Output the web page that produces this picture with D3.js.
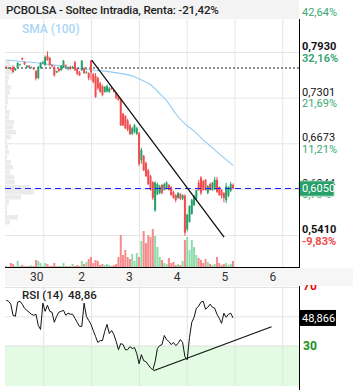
<!DOCTYPE html>
<html>
<head>
<meta charset="utf-8">
<script src="https://cdn.jsdelivr.net/npm/d3@7/dist/d3.min.js"></script>
<style>
  body { margin: 0; background: #fff; }
  #chart { width: 353px; height: 390px; }
  text { font-family: Roboto, "Noto Sans", sans-serif; }
</style>
</head>
<body>
<div id="chart"></div>
<script>
// ---------- DATA ----------
const TITLE = "PCBOLSA - Soltec Intradia, Renta: -21,42%";
const DAY_TICKS = [0, 1, 2, 3, 4, 5];
const DAY_LABELS = ["30", "2", "3", "4", "5", "6"];
const PRICE_TICKS = [0.8558, 0.7930, 0.7301, 0.6673, 0.6044, 0.5410];
const PCT_LABELS = ["42,64%", "32,16%", "21,69%", "11,21%", "0,73%", "-9,83%"];
const BOLD_TICKS = [0.7930, 0.5410];
const LAST_PRICE = 0.6050;
const REF_LEVEL = 0.771;
const RSI_LAST = 48.866;
const RSI_LEVELS = [70, 50, 30];

// candles: [open, high, low, close]
const CANDLES = [
  [.772,.774,.770,.771],[.771,.772,.770,.771],[.771,.772,.768,.770],[.772,.774,.765,.765],
  [.768,.771,.767,.770],[.771,.779,.770,.778],[.776,.777,.775,.776],[.785,.785,.782,.783],
  [.779,.780,.775,.776],[.772,.775,.771,.774],[.774,.775,.771,.772],[.772,.773,.771,.772],
  [.771,.772,.768,.770],[.767,.768,.754,.757],[.757,.774,.756,.772],[.771,.779,.770,.778],
  [.778,.781,.776,.779],[.775,.788,.774,.786],[.788,.794,.781,.782],[.785,.786,.774,.775],
  [.775,.776,.772,.774],[.772,.774,.759,.761],[.765,.767,.764,.767],[.770,.771,.765,.767],
  [.768,.775,.767,.774],[.771,.782,.771,.781],[.775,.776,.772,.774],[.770,.772,.768,.772],
  [.772,.774,.768,.770],[.771,.774,.770,.772],[.779,.781,.767,.768],[.770,.771,.761,.763],
  [.765,.767,.760,.761],[.768,.782,.767,.781],[.771,.772,.763,.764],[.765,.767,.764,.765],
  [.764,.765,.754,.757],[.781,.782,.754,.765],[.763,.764,.750,.752],[.760,.764,.730,.731],
  [.757,.759,.741,.743],[.750,.752,.737,.738],[.746,.748,.732,.734],[.738,.746,.737,.745],
  [.739,.748,.737,.746],[.738,.745,.737,.743],[.743,.745,.741,.742],[.741,.742,.737,.738],
  [.737,.738,.728,.730],[.732,.734,.726,.727],[.727,.730,.691,.692],[.708,.709,.691,.692],
  [.705,.706,.687,.688],[.699,.701,.684,.686],[.692,.694,.679,.680],[.680,.690,.679,.688],
  [.683,.694,.681,.692],[.680,.690,.679,.688],[.681,.683,.636,.639],[.644,.661,.639,.658],
  [.650,.651,.629,.630],[.640,.642,.621,.622],[.630,.632,.610,.611],[.622,.624,.602,.603],
  [.614,.615,.589,.592],[.575,.615,.573,.613],[.597,.613,.596,.611],[.599,.610,.597,.608],
  [.610,.611,.597,.599],[.603,.613,.602,.611],[.606,.615,.604,.613],[.610,.611,.602,.603],
  [.607,.608,.595,.596],[.600,.602,.591,.592],[.596,.597,.586,.589],[.592,.600,.591,.599],
  [.597,.599,.589,.591],[.591,.597,.589,.596],[.595,.597,.540,.544],[.549,.570,.546,.569],
  [.559,.582,.558,.581],[.570,.591,.569,.589],[.582,.596,.581,.595],[.591,.603,.589,.603],
  [.613,.617,.602,.603],[.620,.622,.596,.599],[.615,.617,.602,.603],[.617,.618,.602,.603],
  [.599,.610,.597,.608],[.611,.613,.602,.603],[.603,.614,.602,.613],[.604,.621,.603,.617],
  [.617,.621,.599,.600],[.607,.608,.595,.596],[.603,.604,.591,.595],[.599,.600,.586,.592],
  [.589,.613,.585,.608],[.595,.608,.593,.607],[.602,.614,.600,.611],[.610,.612,.604,.605]
];

// volume per candle (thousands)
const VOLUME = [
  5,2,20,15,5,30,5,10,5,5, 5,10,5,35,30,20,5,20,15,5,
  5,20,5,5,5,20,5,5,5,15, 5,10,5,30,15,25,40,50,20,35,
  30,10,15,10,15,10,5,10,15,50, 160,60,85,50,40,65,30,70,50,130,
  180,120,160,150,190,155,100,50,35,20, 15,45,20,25,10,15,10,30,135,150,
  85,135,100,60,45,35,20,40,25,15, 10,15,50,20,10,15,20,10,15,30
];

// RSI (14) per candle
const RSI = [
  61,60.3,58.3,50.7,50,59.7,60.3,58.3,55.5,54.1,
  52.8,51.4,50.7,51.4,43.8,41,59,53.4,57.6,53.4,
  52.8,45.9,50,52.8,53.4,54.1,50.7,52.1,51.4,51.4,
  48.6,45.9,43.1,43.1,59,50,47.2,44.5,40.3,36.2,
  32.1,33.4,33.4,39.7,44.5,38.3,40.3,37.6,32.8,27.2,
  31.4,30.7,27.2,27.2,29.3,28,28.6,24.5,17.6,23.8,
  19.7,19,16.9,14.8,13.4,19,28,30,30.7,36.9,
  34.1,32.8,30.7,32.1,30,31.4,34.1,32.1,22.4,20.3,
  35.5,45.9,49.3,55.5,56.9,59.7,60.3,54.8,56.2,58.3,
  56.2,55.5,51.4,48.6,45.2,52.1,49.3,51.4,52.1,48.9
];

// SMA (100) read at some candle indexes
const SMA_IDX = [0, 7, 14, 21, 28, 35, 42, 49, 56, 60, 63, 66, 70, 74, 78, 82, 86, 90, 94, 99];
const SMA_VAL = [.782,.780,.778,.775,.772,.769,.767,.764,.759,.753,.748,.739,.726,.708,.694,.684,.672,.661,.650,.637];

// volume profile (price level, volume)
const PROFILE_PRICE = [.7785,.7717,.7648,.7579,.7510,.7441,.7372,.7303,.7235,.7166,.7097,.7028,.6959,.6890,.6822,.6753,.6684,
  .6615,.6546,.6477,.6408,.6340,.6271,.6202,.6133,.6064,.5995,.5926,.5858,.5789,.5720,.5651,.5582];
const PROFILE_VOL = [50,100,80,40,30,60,50,30,30,20,50,40,90,80,110,60,20,30,40,20,60,80,50,90,100,250,290,160,40,20,20,130,50];
const PROFILE_BIN = 0.0069;

// trend lines: [candle index, value]
const TREND_PRICE = [[37.3, 0.782], [95.1, 0.538]];
const TREND_RSI = [[64.3, 12.8], [115.8, 42.9]];

// ---------- LAYOUT ----------
const W = 353, H = 390;
const L = 5, R = 299, T = 19, B = 267;
const RT = 286, RB = 386;

const svg = d3.select("#chart").append("svg")
  .attr("width", W).attr("height", H)
  .style("display", "block");

const fmt = v => d3.format(".4f")(v).replace(".", ",");
const green = "#27a06a", red = "#f04e4e";

// ---------- SCALES ----------
const xDay = d3.scaleLinear().domain([-0.8, 5.35]).range([L, R]);
const x = d3.scaleLinear().domain([0, CANDLES.length - 1]).range([xDay(-0.775), xDay(3.97)]);
const y = d3.scaleLinear().domain([0.4969, 0.8385]).range([B, T]);
const yVol = d3.scaleLinear().domain([0, 250]).range([B, B - 50]);
const xProf = d3.scaleLinear().domain([0, 300]).range([L, L + 30]);
const yRsi = d3.scaleLinear().domain([2.4, 70.7]).range([RB, RT]);

svg.append("defs").append("clipPath").attr("id", "clipMain")
  .append("rect").attr("x", L).attr("y", T).attr("width", R - L).attr("height", B - T);
svg.select("defs").append("clipPath").attr("id", "clipRsi")
  .append("rect").attr("x", L).attr("y", RT).attr("width", R - L).attr("height", RB - RT);

// ---------- TITLE BAR ----------
svg.append("rect").attr("x", 0).attr("y", 0).attr("width", R).attr("height", T)
  .attr("fill", "#f3f3f3");
svg.append("text").attr("x", 6).attr("y", 14)
  .style("font-size", "11.6px").style("font-weight", "500")
  .style("letter-spacing", "-0.15px").attr("fill", "#222")
  .text(TITLE);

// ---------- MAIN PANEL ----------
const main = svg.append("g").attr("clip-path", "url(#clipMain)");

// grid
main.append("g")
  .attr("transform", `translate(${L},0)`)
  .call(d3.axisLeft(y).tickValues(PRICE_TICKS).tickSize(-(R - L)).tickFormat(""))
  .call(g => g.select(".domain").remove())
  .call(g => g.selectAll("line").attr("stroke", "#e6e6e6"));
main.append("g")
  .attr("transform", `translate(0,${B})`)
  .call(d3.axisBottom(xDay).tickValues(DAY_TICKS).tickSize(-(B - T)).tickFormat(""))
  .call(g => g.select(".domain").remove())
  .call(g => g.selectAll("line").attr("stroke", "#e6e6e6"));

// volume profile
main.selectAll(".prof").data(PROFILE_PRICE).join("rect")
  .attr("class", "prof")
  .attr("x", L)
  .attr("y", d => y(d + PROFILE_BIN / 2))
  .attr("width", (d, i) => xProf(PROFILE_VOL[i]) - L)
  .attr("height", d => y(d - PROFILE_BIN / 2) - y(d + PROFILE_BIN / 2) - 0.5)
  .attr("fill", "#ebebeb");

// volume bars
main.selectAll(".vol").data(VOLUME).join("rect")
  .attr("class", "vol")
  .attr("x", (d, i) => x(i) - 1)
  .attr("y", d => yVol(d))
  .attr("width", 2)
  .attr("height", d => B - yVol(d))
  .attr("fill", (d, i) => CANDLES[i][3] >= CANDLES[i][0] ? "#8edcaa" : "#f78b8b");

// SMA line
main.append("path")
  .datum(SMA_IDX.map((d, i) => [d, SMA_VAL[i]]))
  .attr("fill", "none").attr("stroke", "#93cdf3").attr("stroke-width", 1.1)
  .attr("d", d3.line().x(d => x(d[0])).y(d => y(d[1])).curve(d3.curveMonotoneX));

// reference dotted line
main.append("line")
  .attr("x1", L).attr("x2", R).attr("y1", y(REF_LEVEL)).attr("y2", y(REF_LEVEL))
  .attr("stroke", "#222").attr("stroke-dasharray", "2,2");

// candles
const candle = main.selectAll(".candle").data(CANDLES).join("g").attr("class", "candle");
candle.append("line")
  .attr("x1", (d, i) => x(i)).attr("x2", (d, i) => x(i))
  .attr("y1", d => y(d[1])).attr("y2", d => y(d[2]))
  .attr("stroke", d => d[3] >= d[0] ? green : red).attr("stroke-width", 1);
candle.append("rect")
  .attr("x", (d, i) => x(i) - 1)
  .attr("y", d => y(Math.max(d[0], d[3])))
  .attr("width", 2)
  .attr("height", d => Math.max(1, Math.abs(y(d[0]) - y(d[3]))))
  .attr("fill", d => d[3] >= d[0] ? green : red);

// last price dashed line
main.append("line")
  .attr("x1", L).attr("x2", R).attr("y1", y(LAST_PRICE)).attr("y2", y(LAST_PRICE))
  .attr("stroke", "#1f1fff").attr("stroke-width", 1.2).attr("stroke-dasharray", "6,4");

// trend line
main.append("line")
  .attr("x1", x(TREND_PRICE[0][0])).attr("y1", y(TREND_PRICE[0][1]))
  .attr("x2", x(TREND_PRICE[1][0])).attr("y2", y(TREND_PRICE[1][1]))
  .attr("stroke", "#111").attr("stroke-width", 1.3);

svg.append("text").attr("x", 22).attr("y", 33)
  .style("font-size", "12px").style("font-weight", "500").attr("fill", "#a9d6f5")
  .text("SMA (100)");

// right price axis (top price label lies above the window, only its % shows)
const yAxis = svg.append("g")
  .attr("transform", `translate(${R},0)`)
  .call(d3.axisRight(y).tickValues(PRICE_TICKS).tickSize(0).tickPadding(3)
    .tickFormat((d, i) => i === 0 ? "" : fmt(d)));
yAxis.select(".domain").remove();
yAxis.selectAll(".tick text")
  .attr("y", -6)
  .style("font-size", "11px")
  .style("font-family", "Roboto, sans-serif")
  .style("font-weight", d => BOLD_TICKS.includes(d) ? "bold" : "normal")
  .attr("fill", "#111");
yAxis.selectAll(".tick").append("text")
  .attr("x", 3).attr("y", 5.5).attr("dy", "0.32em")
  .style("font-size", "11px")
  .style("font-weight", d => BOLD_TICKS.includes(d) ? "bold" : "normal")
  .attr("fill", (d, i) => PCT_LABELS[i].startsWith("-") ? "#f04848" : "#3aa874")
  .text((d, i) => PCT_LABELS[i]);

// last price tag
svg.append("rect")
  .attr("x", R).attr("y", y(LAST_PRICE) - 7.5).attr("width", 35).attr("height", 15)
  .attr("fill", "#27a06a").attr("stroke", "#9fd6bb").attr("stroke-width", 0.8);
svg.append("text").attr("x", R + 3).attr("y", y(LAST_PRICE)).attr("dy", "0.35em")
  .style("font-size", "11px").attr("fill", "#fff").text(fmt(LAST_PRICE));

// axis lines
svg.append("line").attr("x1", R + 0.5).attr("x2", R + 0.5).attr("y1", T).attr("y2", B)
  .attr("stroke", "#000");
svg.append("line").attr("x1", L).attr("x2", R + 1).attr("y1", B + 0.5).attr("y2", B + 0.5)
  .attr("stroke", "#000");

// ---------- TIME AXIS ----------
svg.append("rect").attr("x", L).attr("y", B + 1).attr("width", W - L).attr("height", RT - B - 1)
  .attr("fill", "#f6f6f6");
const xAxis = svg.append("g")
  .attr("transform", `translate(0,${B})`)
  .call(d3.axisBottom(xDay).tickValues(DAY_TICKS).tickSize(0).tickPadding(5)
    .tickFormat((d, i) => DAY_LABELS[i]));
xAxis.select(".domain").remove();
xAxis.selectAll(".tick text")
  .attr("dx", (d, i) => i === 0 ? -7 : -10)
  .style("font-size", "12px").attr("fill", "#333");

// ---------- RSI PANEL ----------
const rsiG = svg.append("g").attr("clip-path", "url(#clipRsi)");
rsiG.append("rect")
  .attr("x", L).attr("y", yRsi(30)).attr("width", R - L).attr("height", RB - yRsi(30))
  .attr("fill", "#e2fbe2");
rsiG.append("g")
  .attr("transform", `translate(${L},0)`)
  .call(d3.axisLeft(yRsi).tickValues(RSI_LEVELS).tickSize(-(R - L)).tickFormat(""))
  .call(g => g.select(".domain").remove())
  .call(g => g.selectAll("line").attr("stroke", "#e3e3e3"));
rsiG.append("g")
  .attr("transform", `translate(0,${RB})`)
  .call(d3.axisBottom(xDay).tickValues(DAY_TICKS).tickSize(-(RB - RT)).tickFormat(""))
  .call(g => g.select(".domain").remove())
  .call(g => g.selectAll("line").attr("stroke", "#e3e3e3"));

rsiG.append("path").datum(RSI)
  .attr("fill", "none").attr("stroke", "#111").attr("stroke-width", 1)
  .attr("d", d3.line().x((d, i) => x(i)).y(d => yRsi(d)));

rsiG.append("line")
  .attr("x1", x(TREND_RSI[0][0])).attr("y1", yRsi(TREND_RSI[0][1]))
  .attr("x2", x(TREND_RSI[1][0])).attr("y2", yRsi(TREND_RSI[1][1]))
  .attr("stroke", "#111").attr("stroke-width", 1.2);

svg.append("text").attr("x", 22).attr("y", 299)
  .style("font-size", "11.5px").style("font-weight", "500").attr("fill", "#222")
  .text("RSI (14)");
svg.append("text").attr("x", 68).attr("y", 299)
  .style("font-size", "11.5px").style("font-weight", "500").attr("fill", "#222")
  .text((Math.floor(RSI_LAST * 100) / 100).toFixed(2).replace(".", ","));

// RSI right axis
svg.append("line").attr("x1", R + 0.5).attr("x2", R + 0.5).attr("y1", RT).attr("y2", H)
  .attr("stroke", "#000");
const rsiLabels = svg.append("g");
rsiLabels.append("clipPath").attr("id", "clipRsiLab")
  .append("rect").attr("x", R).attr("y", RT - 1).attr("width", W - R).attr("height", H - RT);
rsiLabels.append("text").attr("clip-path", "url(#clipRsiLab)")
  .attr("x", R + 4).attr("y", yRsi(70) - 1).attr("dy", "0.35em")
  .style("font-size", "12px").style("font-weight", "bold").attr("fill", "#e01010").text("70");
rsiLabels.append("text")
  .attr("x", R + 4).attr("y", yRsi(30)).attr("dy", "0.35em")
  .style("font-size", "12px").style("font-weight", "bold").attr("fill", "#189018").text("30");
svg.append("rect")
  .attr("x", R).attr("y", yRsi(RSI_LAST) - 8).attr("width", 37).attr("height", 16)
  .attr("fill", "#000");
svg.append("text").attr("x", R + 3).attr("y", yRsi(RSI_LAST)).attr("dy", "0.35em")
  .style("font-size", "11px").attr("fill", "#fff")
  .text(d3.format(".3f")(RSI_LAST).replace(".", ","));
</script>
</body>
</html>
